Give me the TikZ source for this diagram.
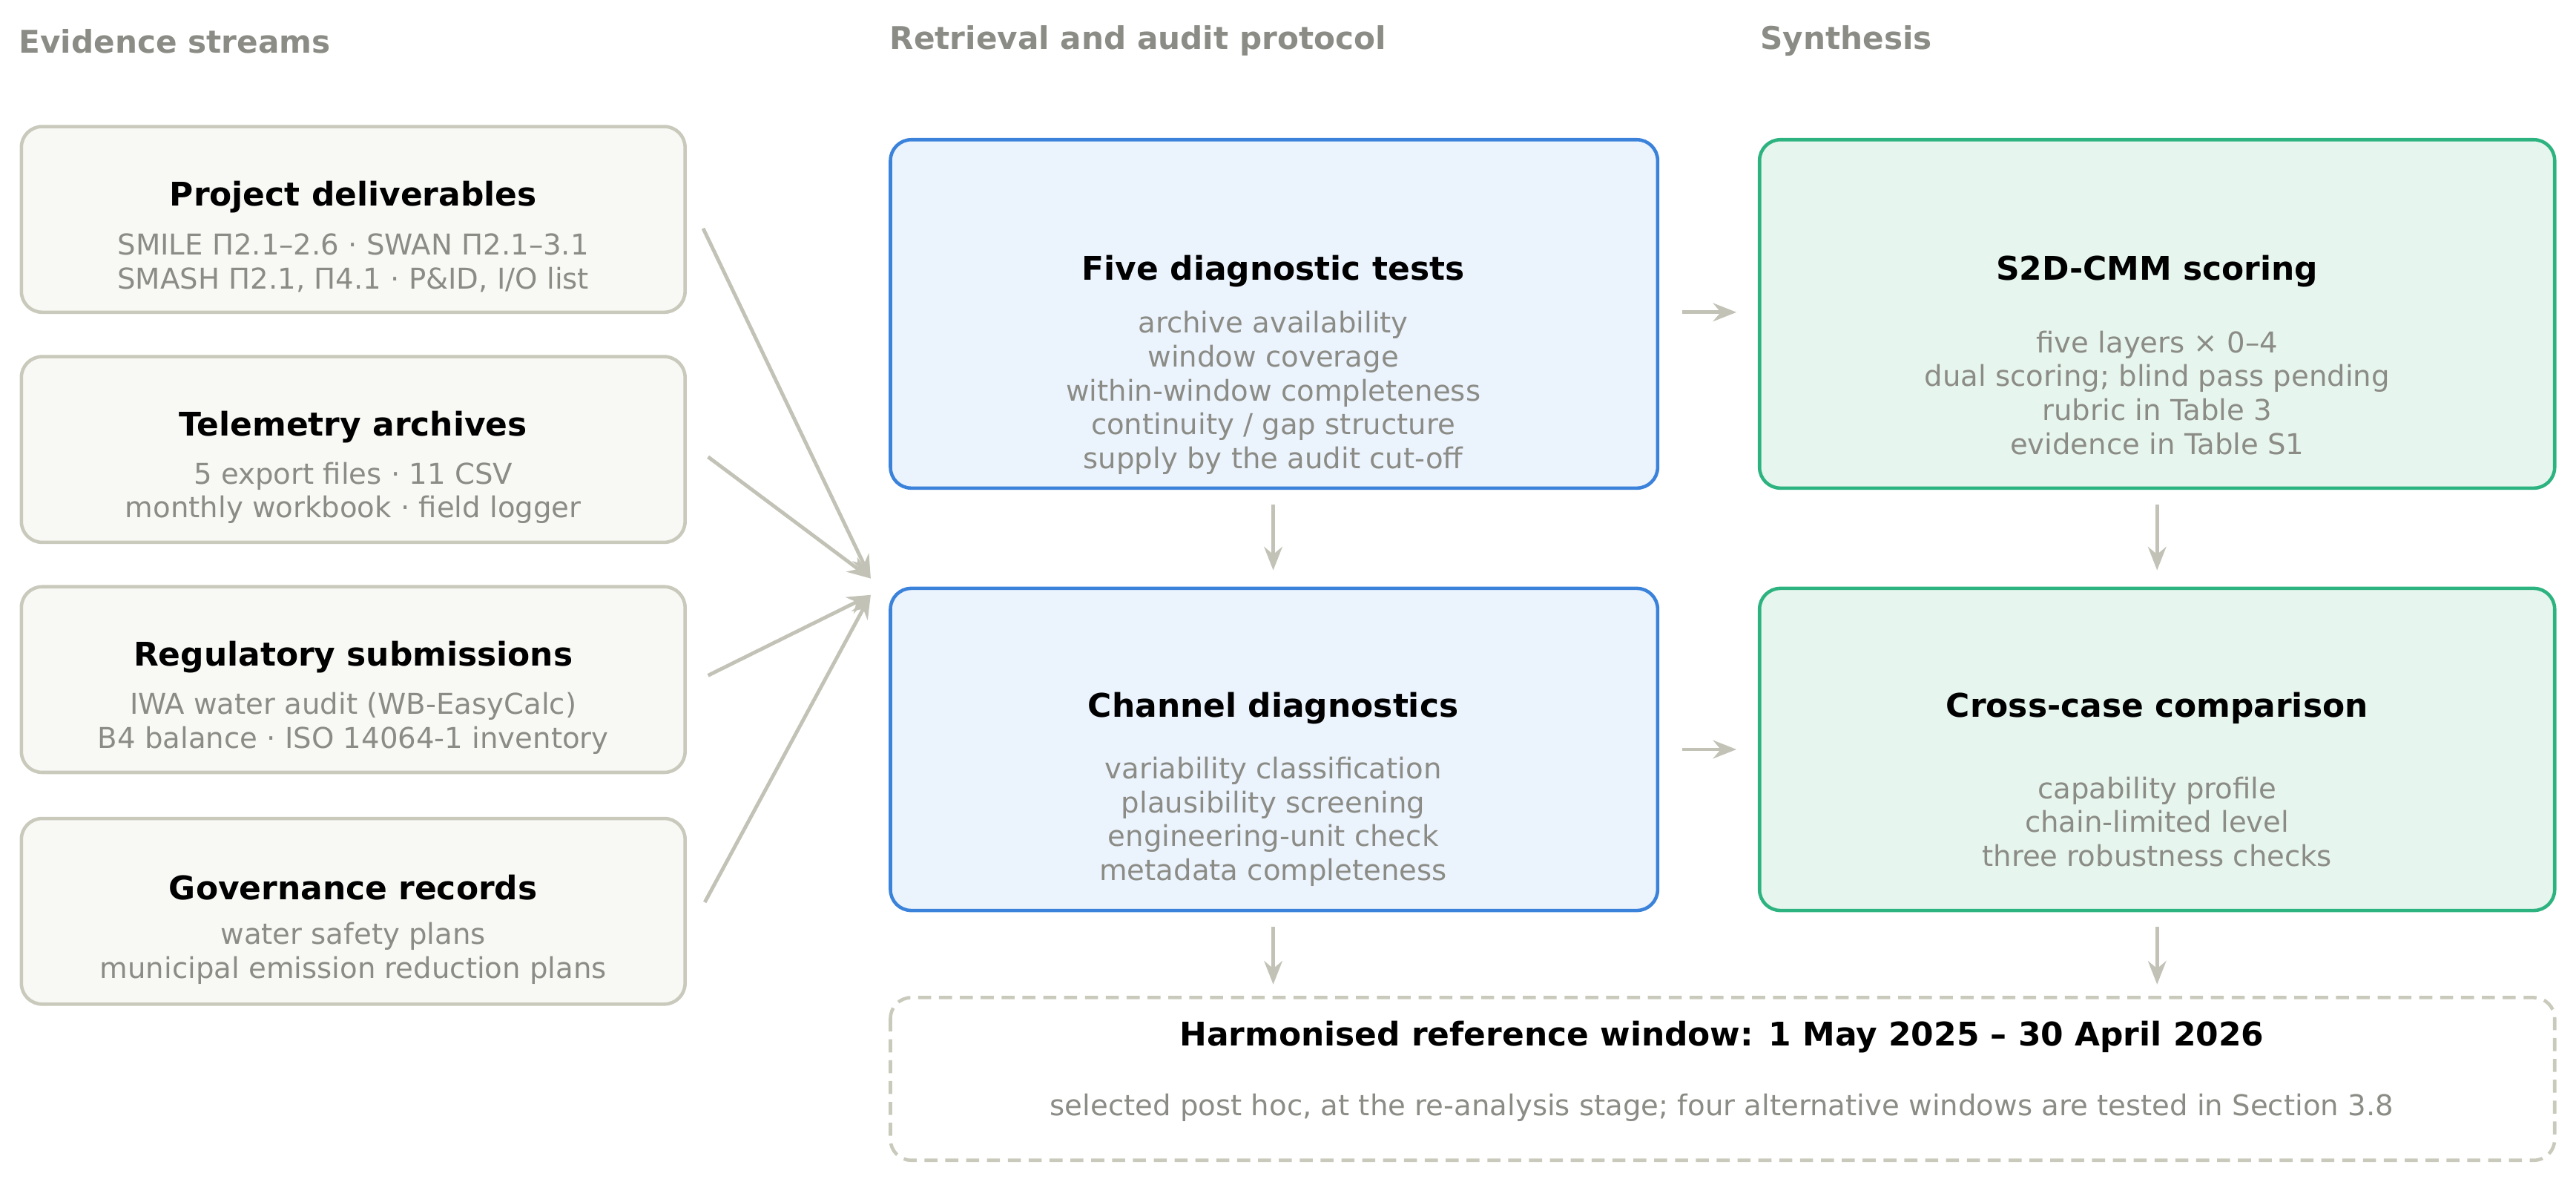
\documentclass[tikz,border=0pt]{standalone}
\usepackage{fontspec}
\setmainfont{DejaVu Sans}
\usetikzlibrary{arrows.meta}
\definecolor{srcline}{HTML}{C9C9BC}
\definecolor{srcfill}{HTML}{F8F8F5}
\definecolor{bluline}{HTML}{3B82DB}
\definecolor{blufill}{HTML}{EBF3FD}
\definecolor{grnline}{HTML}{2DB380}
\definecolor{grnfill}{HTML}{E6F5EE}
\definecolor{txtgray}{HTML}{8C8C86}
\definecolor{arrgray}{HTML}{C2C2B6}
\begin{document}
\begin{tikzpicture}[x=0.02215cm, y=-0.02215cm,
    box/.style={draw, rounded corners=8pt, line width=1.3pt},
    src box/.style={box, draw=srcline, fill=srcfill},
    blue box/.style={box, draw=bluline, fill=blufill},
    green box/.style={box, draw=grnline, fill=grnfill},
    title/.style={font=\bfseries\fontsize{12.5}{15}\selectfont, text=black},
    body/.style={font=\fontsize{11}{13}\selectfont, text=txtgray, align=center},
    header/.style={font=\bfseries\fontsize{12}{14}\selectfont, text=txtgray, anchor=west},
    flow/.style={-{Stealth[length=9pt,width=7pt]}, arrgray, line width=1.4pt}]

  \useasboundingbox (0,0) rectangle (1568,719);

  % column headers
  \node[header] (h1) at (6,25) {Evidence streams};
  \node[header] (h2) at (536,25) {Retrieval and audit protocol};
  \node[header] (h3) at (1066,25) {Synthesis};

  % evidence streams
  \draw[src box] (13,77) rectangle (417,190);
  \draw[src box] (13,217) rectangle (417,330);
  \draw[src box] (13,357) rectangle (417,470);
  \draw[src box] (13,498) rectangle (417,611);
  \node[title] (s1) at (215,120) {Project deliverables};
  \node[body] (s1b) at (215,160) {SMILE П2.1–2.6 · SWAN П2.1–3.1\\SMASH П2.1, П4.1 · P\&ID, I/O list};
  \node[title] (s2) at (215,260) {Telemetry archives};
  \node[body] (s2b) at (215,300) {5 export files · 11 CSV\\monthly workbook · field logger};
  \node[title] (s3) at (215,400) {Regulatory submissions};
  \node[body] (s3b) at (215,440) {IWA water audit (WB-EasyCalc)\\B4 balance · ISO 14064-1 inventory};
  \node[title] (s4) at (215,540) {Governance records};
  \node[body] (s4b) at (215,580) {water safety plans\\municipal emission reduction plans};

  % protocol
  \draw[blue box] (542,85) rectangle (1009,297);
  \draw[blue box] (542,358) rectangle (1009,554);
  \node[title] (p1) at (775,165) {Five diagnostic tests};
  \node[body] (p1b) at (775,239) {archive availability\\window coverage\\within-window completeness\\continuity / gap structure\\supply by the audit cut-off};
  \node[title] (p2) at (775,431) {Channel diagnostics};
  \node[body] (p2b) at (775,500) {variability classification\\plausibility screening\\engineering-unit check\\metadata completeness};

  % synthesis
  \draw[green box] (1071,85) rectangle (1555,297);
  \draw[green box] (1071,358) rectangle (1555,554);
  \node[title] (q1) at (1313,165) {S2D-CMM scoring};
  \node[body] (q1b) at (1313,239) {five layers × 0–4\\dual scoring; blind pass pending\\rubric in Table 3\\evidence in Table S1};
  \node[title] (q2) at (1313,431) {Cross-case comparison};
  \node[body] (q2b) at (1313,500) {capability profile\\chain-limited level\\three robustness checks};

  % reference window
  \draw[box, draw=srcline, dashed, dash pattern=on 5pt off 3pt] (542,607) rectangle (1555,706);
  \node[title] (w) at (1048,631) {Harmonised reference window: 1 May 2025 – 30 April 2026};
  \node[body] (wb) at (1048,674) {selected post hoc, at the re-analysis stage; four alternative windows are tested in Section 3.8};

  % connectors
  \coordinate (m1) at (530,352);
  \coordinate (m2) at (530,362);
  \draw[flow] (428,139) -- (m1);
  \draw[flow] (431,278) -- (m1);
  \draw[flow] (431,411) -- (m2);
  \draw[flow] (429,549) -- (m2);
  \draw[flow] (1024,190) -- (1057,190);
  \draw[flow] (1024,456) -- (1057,456);
  \draw[flow] (775,307) -- (775,347);
  \draw[flow] (1313,307) -- (1313,347);
  \draw[flow] (775,564) -- (775,599);
  \draw[flow] (1313,564) -- (1313,599);
\end{tikzpicture}
\end{document}
